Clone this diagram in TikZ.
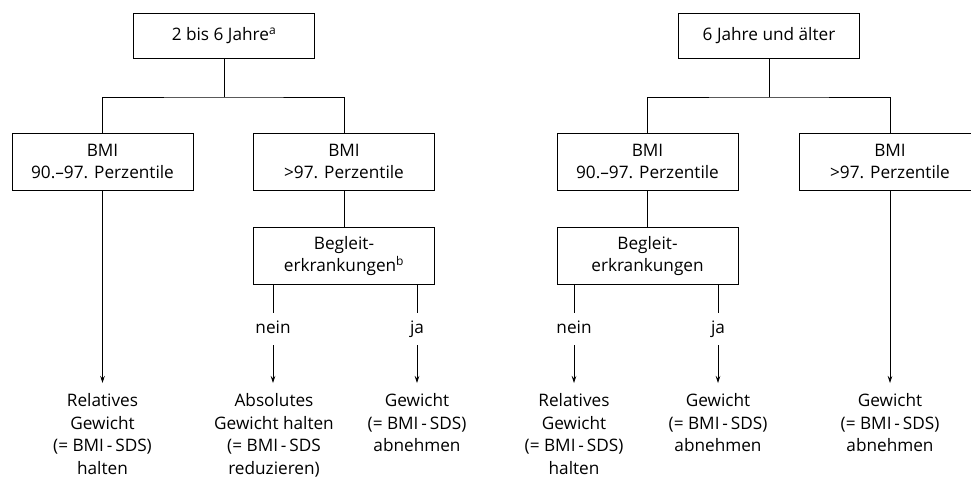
\documentclass[tikz,border=0pt]{standalone}
\usepackage{fontspec}
\setmainfont{Open Sans}
\usetikzlibrary{arrows.meta}
\begin{document}
\begin{tikzpicture}[x=1pt,y=-1pt,
  font=\fontsize{17.2}{22.6}\selectfont,
  line width=0.7pt,
  box/.style={draw, minimum width=181pt, minimum height=57pt, align=center, inner sep=0pt},
  topbox/.style={box, minimum height=45pt},
  res/.style={align=center, anchor=north, inner sep=0pt},
  lab/.style={inner xsep=0pt, inner ysep=8pt, text height=12pt, text depth=4pt},
  arr/.style={-{Stealth[length=7pt,width=4.5pt]}}]
\useasboundingbox (0,0) rectangle (971,480);
% ---------- left tree ----------
\node[topbox] (a) at (224,35.5) {2 bis 6 Jahre\textsuperscript{a}};
\node[box] (al) at (102.5,161.5) {BMI\\90.–97. Perzentile};
\node[box] (ar) at (344,161.5) {BMI\\>97. Perzentile};
\node[box] (ab) at (344,256) {Begleit-\\erkrankungen\textsuperscript{b}};
\coordinate (aj) at (224,97);
\draw (a) -- (aj);
\draw (al.north) |- (aj) -| (ar.north);
\draw (ar) -- (ab);
\node[lab] (an) at (273,329) {nein};
\node[lab] (ay) at (417,329) {ja};
\node[res] (r1) at (102.5,393) {Relatives\\Gewicht\\(= BMI\,-\,SDS)\\halten};
\node[res] (r2) at (274,393) {Absolutes\\Gewicht halten\\(= BMI\,-\,SDS\\reduzieren)};
\node[res] (r3) at (417,393) {Gewicht\\(= BMI\,-\,SDS)\\abnehmen};
\draw[arr] (al.south) -- ([yshift=10pt]r1.north);
\draw (ab.south -| an) -- (an);
\draw[arr] (an) -- ([yshift=10pt]r2.north -| an);
\draw (ab.south -| ay) -- (ay);
\draw[arr] (ay) -- ([yshift=10pt]r3.north);
% ---------- right tree ----------
\node[topbox] (b) at (769,35.5) {6 Jahre und älter};
\node[box] (bl) at (647.5,161.5) {BMI\\90.–97. Perzentile};
\node[box] (br) at (890,161.5) {BMI\\>97. Perzentile};
\node[box] (bb) at (647.5,256) {Begleit-\\erkrankungen};
\coordinate (bj) at (769,97);
\draw (b) -- (bj);
\draw (bl.north) |- (bj) -| (br.north);
\draw (bl) -- (bb);
\node[lab] (bn) at (574,329) {nein};
\node[lab] (by) at (718,329) {ja};
\node[res] (s1) at (574,393) {Relatives\\Gewicht\\(= BMI\,-\,SDS)\\halten};
\node[res] (s2) at (718,393) {Gewicht\\(= BMI\,-\,SDS)\\abnehmen};
\node[res] (s3) at (890,393) {Gewicht\\(= BMI\,-\,SDS)\\abnehmen};
\draw (bb.south -| bn) -- (bn);
\draw[arr] (bn) -- ([yshift=10pt]s1.north);
\draw (bb.south -| by) -- (by);
\draw[arr] (by) -- ([yshift=10pt]s2.north);
\draw[arr] (br.south) -- ([yshift=10pt]s3.north);
\end{tikzpicture}
\end{document}
